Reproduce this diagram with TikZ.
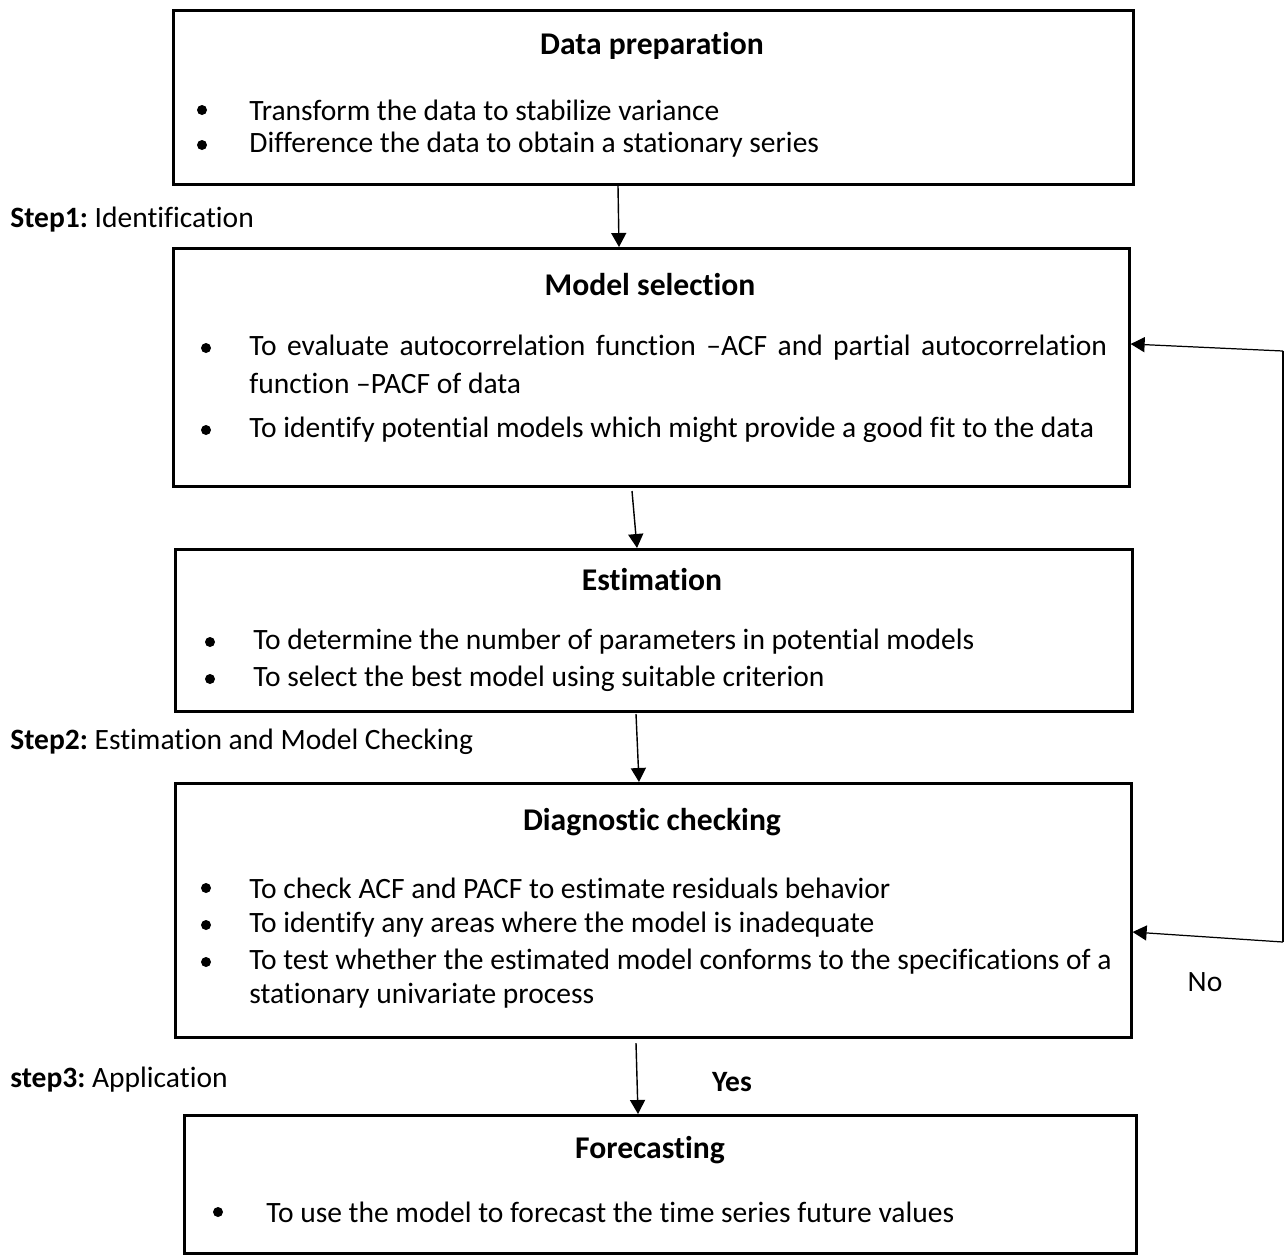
\documentclass[tikz,border=0pt]{standalone}
\usepackage{fontspec}
\setmainfont{Carlito}[Ligatures=CommonOff]
\usetikzlibrary{arrows.meta,positioning}
\frenchspacing

\tikzset{
  stagebox/.style={draw, rectangle, line width=1.6pt, inner sep=0pt, anchor=north west},
  stagetitle/.style={font=\fontsize{18}{22}\selectfont\bfseries, inner sep=0pt},
  itemtext/.style={font=\fontsize{16.8}{20}\selectfont, anchor=west, inner sep=0pt},
  bulletdot/.style={circle, fill, inner sep=0pt, minimum size=0.2cm},
  steplabel/.style={font=\fontsize{16.8}{20}\selectfont, anchor=west, inner sep=0pt},
  flowarrow/.style={line width=0.8pt, -{Triangle[length=0.28cm,width=0.3cm]}},
  backarrow/.style={line width=0.7pt, -{Triangle[length=0.28cm,width=0.3cm]}},
}

\begin{document}
\begin{tikzpicture}[x=0.02cm,y=-0.02cm]
\useasboundingbox (0,0) rectangle (1287,1258);

% boxes
\node[stagebox, minimum width=19.2cm, minimum height=3.48cm] (dataprep) at (172,9) {};
\node[stagebox, minimum width=19.12cm, minimum height=4.76cm] (modelsel) at (172,247) {};
\node[stagebox, minimum width=19.14cm, minimum height=3.24cm] (estim) at (174,548) {};
\node[stagebox, minimum width=19.12cm, minimum height=5.08cm] (diagcheck) at (174,782) {};
\node[stagebox, minimum width=19.04cm, minimum height=2.76cm] (forecast) at (183,1114) {};

% titles
\node[stagetitle] (dataprep-t) at (652,46) {Data preparation};
\node[stagetitle] (modelsel-t) at (650,285) {Model selection};
\node[stagetitle] (estim-t) at (652,580) {Estimation};
\node[stagetitle] (diagcheck-t) at (652,822) {Diagnostic checking};
\node[stagetitle] (forecast-t) at (650,1150) {Forecasting};

% bullet items
\node[bulletdot] (b11) at (202,110) {};
\node[itemtext] (t11) at (249,110) {Transform the data to stabilize variance};
\node[bulletdot] (b12) at (202,145) {};
\node[itemtext] (t12) at (249,145) {Difference the data to obtain a stationary series};

\node[bulletdot] (b21) at (206,348) {};
\node[itemtext] (t21) at (249,348) {\makebox[17.16cm][s]{To evaluate autocorrelation function –ACF and partial autocorrelation}};
\node[itemtext] (t21b) at (249,383) {function –PACF of data};
\node[bulletdot] (b22) at (206,430) {};
\node[itemtext] (t22) at (249,430) {To identify potential models which might provide a good fit to the data};

\node[bulletdot] (b31) at (210,642) {};
\node[itemtext] (t31) at (253,642) {To determine the number of parameters in potential models};
\node[bulletdot] (b32) at (210,679) {};
\node[itemtext] (t32) at (253,679) {To select the best model using suitable criterion};

\node[bulletdot] (b41) at (206,888) {};
\node[itemtext] (t41) at (249,888) {To check ACF and PACF to estimate residuals behavior};
\node[bulletdot] (b42) at (206,925) {};
\node[itemtext] (t42) at (249,925) {To identify any areas where the model is inadequate};
\node[bulletdot] (b43) at (206,962) {};
\node[itemtext] (t43) at (249,962) {To test whether the estimated model conforms to the specifications of a};
\node[itemtext] (t43b) at (249,996) {stationary univariate process};

\node[bulletdot] (b51) at (218,1212) {};
\node[itemtext] (t51) at (266,1212) {To use the model to forecast the time series future values};

% step labels
\node[steplabel] (step1) at (10,220) {\textbf{Step1:} Identification};
\node[steplabel] (step2) at (10,742) {\textbf{Step2:} Estimation and Model Checking};
\node[steplabel] (step3) at (10,1080) {\textbf{step3:} Application};
\node[steplabel, anchor=center] (yes) at (732,1082) {\textbf{Yes}};
\node[steplabel, anchor=center] (no) at (1205,982) {No};

% flow arrows
\draw[flowarrow] (618,186) -- (modelsel.north -| 619,0);
\draw[flowarrow] (632,491) -- (estim.north -| 637,0);
\draw[flowarrow] (636,714) -- (diagcheck.north -| 639,0);
\draw[flowarrow] (636,1043) -- (forecast.north -| 638,0);

% feedback loop
\coordinate (fbtop) at (1283,351);
\coordinate (fbbot) at (1283,942);
\draw[line width=0.7pt] (fbtop) -- (fbbot);
\draw[backarrow] (fbtop) -- (modelsel.east |- 0,344);
\draw[backarrow] (fbbot) -- (diagcheck.east |- 0,932);
\end{tikzpicture}
\end{document}
